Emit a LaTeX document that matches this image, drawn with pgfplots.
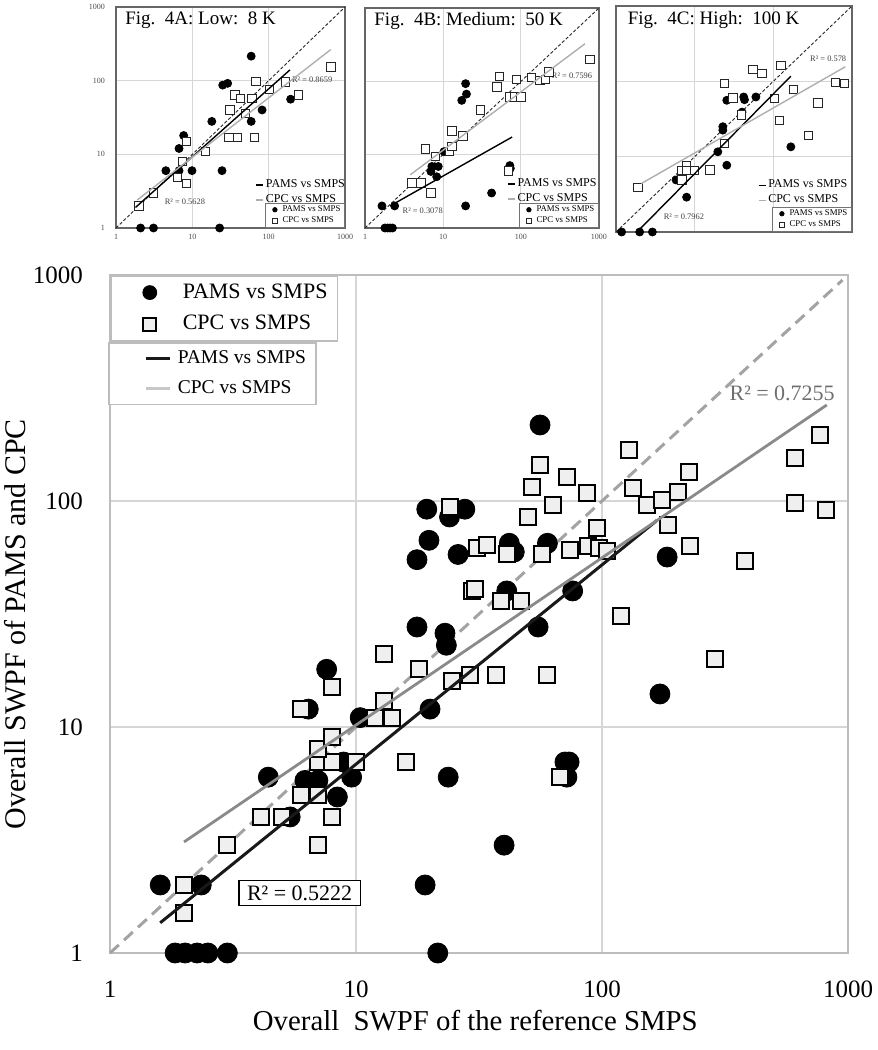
\documentclass[border=0pt]{standalone}
\usepackage{pgfplots}
\pgfplotsset{compat=1.18}
\usepackage{fontspec}
\setmainfont{Liberation Serif}
\definecolor{gridc}{HTML}{D6D6D6}
\definecolor{boxc}{HTML}{BDBDBD}
\definecolor{cpcline}{HTML}{8A8A8A}
\definecolor{cpclegend}{HTML}{C8C8C8}
\definecolor{diagc}{HTML}{A3A3A3}
\definecolor{sqfill}{HTML}{EFEFEF}
\definecolor{r2gray}{HTML}{6E6E6E}
\definecolor{pcpc}{HTML}{AFAFAF}

\tikzset{
  ptitle/.style={anchor=west, font=\fontsize{9.5}{11}\selectfont},
  pr2/.style={font=\fontsize{4.2}{5}\selectfont, text=black!75},
}
\pgfplotsset{
  ppams/.style={only marks, mark=*, mark size=2pt, black},
  pcpcm/.style={only marks, mark=square*, mark size=2.1pt, draw=black!85, fill=white, line width=0.4pt},
  pdiag/.style={black!85, line width=0.45pt, dash pattern=on 1.6pt off 1pt, forget plot},
}

\begin{document}
\begin{tikzpicture}
\useasboundingbox (0,0) rectangle (439pt,525pt);

% ================= Panel A =================
\begin{axis}[scale only axis, xmode=log, ymode=log, xmin=1, xmax=1000, ymin=1, ymax=1000,
  xtick={1,10,100,1000}, ytick={1,10,100,1000}, xminorticks=false, yminorticks=false,
  major tick length=0pt, clip=false,
  width=114.5pt, height=110.5pt, at={(58pt,411pt)}, anchor=south west,
  grid=major, major grid style={gridc, line width=0.5pt},
  axis line style={black!60, line width=0.8pt},
  xticklabels={1,10,100,1000}, yticklabels={1,10,100,1000},
  tick label style={font=\fontsize{4}{5}\selectfont, text=black!70},
  xticklabel style={anchor=center, yshift=-4.5pt},
  yticklabel style={anchor=east, xshift=-2pt},
  legend style={at={(1,0)}, anchor=south east, draw=black!55, line width=0.4pt, fill=white,
    font=\fontsize{4.4}{5}\selectfont, inner xsep=1.5pt, inner ysep=0.5pt, row sep=0pt,
    nodes={inner sep=0.6pt}},
  legend cell align=left,
  legend image code/.code={\path (0pt,0pt) (6pt,0pt); \draw[mark repeat=2,mark phase=2,#1] plot coordinates {(0pt,0pt) (3pt,0pt) (6pt,0pt)};},
  legend image post style={mark size=1.1pt}]
\addplot[pdiag] coordinates {(1,1) (1000,1000)};
\addplot[ppams] coordinates {(59,215) (25,87) (29,92) (18,28) (59,28) (82,40) (194,56) (7.7,18) (6.7,12) (4.5,6) (6.7,6) (9.9,6) (24.5,6) (2.1,1) (3.1,1) (22.8,1)};
\addlegendentry{PAMS vs SMPS}
\addplot[pcpcm] coordinates {(2,2) (3.1,3) (6.4,4.9) (7.4,8) (8.4,4) (8.4,15) (14.7,11) (31,40) (30,17) (39,17) (65,17) (36,64) (43,57) (60,57) (68,97) (50,36) (102,76) (165,96) (245,64) (650,154)};
\addlegendentry{CPC vs SMPS}
\node[ptitle] at (rel axis cs:0.01,0.94) {Fig.\ \ 4A: Low:\ \ 8 K};
\node[pr2] at (axis cs:371,102) {R² = 0.8659};
\node[pr2] at (axis cs:8,2.3) {R² = 0.5628};
\end{axis}
\begin{axis}[scale only axis, xmode=log, ymode=log, xmin=1, xmax=1000, ymin=1, ymax=1000, clip=false,
  width=114.5pt, height=110.5pt, at={(58pt,411pt)}, anchor=south west, hide axis,
  legend style={at={(1.01,0.09)}, anchor=south east, draw=none, fill=none,
    font=\fontsize{6}{7}\selectfont, inner sep=0pt, row sep=0pt, nodes={inner sep=1pt}},
  legend cell align=left,
  legend image code/.code={\draw[#1, line width=0.8pt] (0pt,0pt) -- (3.5pt,0pt);}]
\addplot[black, line width=0.7pt] coordinates {(1.8,1.9) (190,140)};
\addlegendentry{PAMS vs SMPS}
\addplot[pcpc, line width=0.7pt] coordinates {(1.9,2.4) (650,264)};
\addlegendentry{CPC vs SMPS}
\end{axis}

% ================= Panel B =================
\begin{axis}[scale only axis, xmode=log, ymode=log, xmin=1, xmax=1000, ymin=1, ymax=1000,
  xtick={1,10,100,1000}, ytick={1,10,100,1000}, xminorticks=false, yminorticks=false,
  major tick length=0pt, clip=false,
  width=117pt, height=110pt, at={(182.5pt,411pt)}, anchor=south west,
  grid=major, major grid style={gridc, line width=0.5pt},
  axis line style={black!60, line width=0.8pt},
  xticklabels={1,10,100,1000}, yticklabels={},
  tick label style={font=\fontsize{4}{5}\selectfont, text=black!70},
  xticklabel style={anchor=center, yshift=-4.5pt},
  legend style={at={(1,0)}, anchor=south east, draw=black!55, line width=0.4pt, fill=white,
    font=\fontsize{4.4}{5}\selectfont, inner xsep=1.5pt, inner ysep=0.5pt, row sep=0pt,
    nodes={inner sep=0.6pt}},
  legend cell align=left,
  legend image code/.code={\path (0pt,0pt) (6pt,0pt); \draw[mark repeat=2,mark phase=2,#1] plot coordinates {(0pt,0pt) (3pt,0pt) (6pt,0pt)};},
  legend image post style={mark size=1.1pt}]
\addplot[pdiag] coordinates {(1,1) (1000,1000)};
\addplot[ppams] coordinates {(1.65,2) (2.4,2) (1.8,1) (1.95,1) (2.1,1) (2.25,1) (19.5,2) (42,3) (72,7.1) (73,6.5) (19.5,93) (20,67) (17.4,55) (10.3,11) (7.2,6.9) (8.7,6.9) (7,5.9) (8.3,5)};
\addlegendentry{PAMS vs SMPS}
\addplot[pcpcm] coordinates {(4,4.1) (5.2,4.1) (7,3) (6,12) (8,9.4) (12,11) (13,13) (13,21) (18,18) (30,41) (49,84) (53,117) (72,61) (82,61) (100,61) (88,106) (137,114) (175,103) (207,106) (229,134) (69,6) (767,199)};
\addlegendentry{CPC vs SMPS}
\node[ptitle] at (rel axis cs:0.01,0.94) {Fig.\ \ 4B: Medium:\ \ 50 K};
\node[pr2] at (axis cs:451,118) {R² = 0.7596};
\node[pr2] at (axis cs:5.5,1.7) {R² = 0.3078};
\end{axis}
\begin{axis}[scale only axis, xmode=log, ymode=log, xmin=1, xmax=1000, ymin=1, ymax=1000, clip=false,
  width=117pt, height=110pt, at={(182.5pt,411pt)}, anchor=south west, hide axis,
  legend style={at={(1.0,0.095)}, anchor=south east, draw=none, fill=none,
    font=\fontsize{6}{7}\selectfont, inner sep=0pt, row sep=0pt, nodes={inner sep=1pt}},
  legend cell align=left,
  legend image code/.code={\draw[#1, line width=0.8pt] (0pt,0pt) -- (3.5pt,0pt);}]
\addplot[black, line width=0.7pt] coordinates {(2.1,2.0) (77,17.4)};
\addlegendentry{PAMS vs SMPS}
\addplot[pcpc, line width=0.7pt] coordinates {(3.8,5.3) (660,325)};
\addlegendentry{CPC vs SMPS}
\end{axis}

% ================= Panel C =================
\begin{axis}[scale only axis, xmode=log, ymode=log, xmin=1, xmax=1000, ymin=1, ymax=1000,
  xtick={1,10,100,1000}, ytick={1,10,100,1000}, xminorticks=false, yminorticks=false,
  major tick length=0pt, clip=false,
  width=118pt, height=113pt, at={(308pt,409pt)}, anchor=south west,
  grid=major, major grid style={gridc, line width=0.5pt},
  axis line style={black!60, line width=0.8pt},
  xticklabels={}, yticklabels={},
  legend style={at={(1,0)}, anchor=south east, draw=black!55, line width=0.4pt, fill=white,
    font=\fontsize{4.4}{5}\selectfont, inner xsep=1.5pt, inner ysep=0.5pt, row sep=0pt,
    nodes={inner sep=0.6pt}},
  legend cell align=left,
  legend image code/.code={\path (0pt,0pt) (6pt,0pt); \draw[mark repeat=2,mark phase=2,#1] plot coordinates {(0pt,0pt) (3pt,0pt) (6pt,0pt)};},
  legend image post style={mark size=1.1pt}]
\addplot[pdiag] coordinates {(1,1) (1000,1000)};
\addplot[ppams] coordinates {(1.18,1) (2,1) (2.9,1) (7.9,2.9) (5.8,4.9) (19.7,11.6) (25.6,7.7) (22.8,25) (22.8,22.5) (40,39) (25.6,56) (42,62) (43,57) (60,62) (167,13.5)};
\addlegendentry{PAMS vs SMPS}
\addplot[pcpcm] coordinates {(1.9,3.9) (6.9,4.9) (6.9,6.6) (7.8,7.7) (7.9,6.6) (10,6.6) (15.7,6.7) (23.7,15) (39,36) (30.5,60) (23.7,94) (55,144) (71.5,127) (125,164) (104,59) (181,78) (119,30.5) (369,52) (281,19.3) (613,96) (798,93)};
\addlegendentry{CPC vs SMPS}
\node[ptitle] at (rel axis cs:0.02,0.94) {Fig.\ \ 4C: High:\ \ 100 K};
\node[pr2] at (axis cs:498,198) {R² = 0.578};
\node[pr2] at (axis cs:7.3,1.58) {R² = 0.7962};
\end{axis}
\begin{axis}[scale only axis, xmode=log, ymode=log, xmin=1, xmax=1000, ymin=1, ymax=1000, clip=false,
  width=118pt, height=113pt, at={(308pt,409pt)}, anchor=south west, hide axis,
  legend style={at={(0.99,0.105)}, anchor=south east, draw=none, fill=none,
    font=\fontsize{6}{7}\selectfont, inner sep=0pt, row sep=0pt, nodes={inner sep=1pt}},
  legend cell align=left,
  legend image code/.code={\draw[#1, line width=0.8pt] (0pt,0pt) -- (3.5pt,0pt);}]
\addplot[black, line width=0.7pt] coordinates {(1.85,1) (167,117)};
\addlegendentry{PAMS vs SMPS}
\addplot[pcpc, line width=0.7pt] coordinates {(2.1,4.4) (822,156)};
\addlegendentry{CPC vs SMPS}
\end{axis}

% ================= Main chart =================
\begin{axis}[scale only axis, xmode=log, ymode=log, xmin=1, xmax=1000, ymin=1, ymax=1000,
  xtick={1,10,100,1000}, ytick={1,10,100,1000}, xminorticks=false, yminorticks=false,
  major tick length=0pt, clip=false,
  width=369pt, height=339pt, at={(55pt,48.5pt)}, anchor=south west,
  xticklabels={1,10,100,1000}, yticklabels={1,10,100,1000},
  grid=major, major grid style={gridc, line width=0.8pt},
  axis line style={boxc, line width=0.9pt},
  tick label style={font=\fontsize{12.5}{14}\selectfont},
  xticklabel style={anchor=center, yshift=-18pt},
  yticklabel style={anchor=east, xshift=-10pt},
  xlabel={Overall\ \ SWPF of the reference SMPS},
  ylabel={Overall SWPF of PAMS and CPC},
  xlabel style={font=\fontsize{14.4}{16}\selectfont, at={(axis description cs:0.495,-0.099)}, anchor=center},
  ylabel style={font=\fontsize{15}{17}\selectfont, at={(axis description cs:-0.129,0.485)}, anchor=center},
  legend style={at={(0,1)}, anchor=north west, draw=boxc, line width=0.8pt, fill=white,
    font=\fontsize{11}{13}\selectfont, inner xsep=3pt, inner ysep=2pt, row sep=3pt},
  legend cell align=left,
  legend image code/.code={\path (0pt,0pt) (30pt,0pt); \draw[mark repeat=2,mark phase=2,#1] plot coordinates {(0pt,0pt) (16pt,0pt) (32pt,0pt)};},
  legend image post style={mark size=3.3pt},
]
\addplot[diagc, line width=1.5pt, dash pattern=on 6pt off 3.5pt, forget plot] coordinates {(1,1) (950,950)};
\addplot[only marks, mark=*, mark size=5pt, black] coordinates {
(1.6,2) (2.35,2) (1.84,1) (2.02,1) (2.26,1) (2.5,1) (3.0,1) (21.5,1) (19.1,2) (23.7,6) (40,3)
(7.6,18) (6.4,12) (4.4,6) (5.4,4) (6.2,5.8) (7.0,5.8) (8.4,4.9) (9.6,6) (8.9,7) (10.4,11) (20,12)
(17.7,27.7) (23,26) (23.3,23) (19.4,92) (27.7,92) (24,85) (19.8,67) (17.7,55) (26,58) (56,217)
(42,65) (44,59.5) (60,65) (41,40) (76,40) (55,27.7) (184,56.5) (172,14) (70.7,7) (73.5,7) (72,6)};
\addlegendentry{PAMS vs SMPS}
\addplot[only marks, mark=square*, mark size=4pt, draw=black, fill=sqfill, line width=1pt] coordinates {
(2,2) (2,1.5) (3,3) (4.1,4) (5,4) (6,5) (7,5) (7,3) (8,4) (7,7) (8,7) (7,8) (8,9) (10,7) (6,12) (8,15)
(12,11) (14,11) (13,13) (16,7) (13,21) (18,18) (24.5,16) (29,17) (37,17) (24,94) (31,62) (34,64)
(29.6,40) (30.5,41) (39,36) (47,36) (41,58) (57,58) (74,61) (88,63) (95,76) (97,62) (105,60) (50,85)
(63,96) (52,115) (56,144) (72,128) (87,108) (185,78) (228,63) (380,54) (120,31) (129,168) (134,114)
(152,96) (175,101) (204,110) (226,134) (609,155) (769,196) (610,98) (814,91) (288,20) (60,17) (67.5,6)};
\addlegendentry{CPC vs SMPS}
\node[text=r2gray, font=\fontsize{11}{13}\selectfont] at (axis cs:540,300) {R² = 0.7255};
\node[draw=black, line width=0.7pt, fill=white, inner xsep=4pt, inner ysep=2.5pt, font=\fontsize{11}{13}\selectfont] at (axis cs:5.9,1.84) {R² = 0.5222};
\end{axis}
\begin{axis}[scale only axis, xmode=log, ymode=log, xmin=1, xmax=1000, ymin=1, ymax=1000, clip=false,
  width=369pt, height=339pt, at={(55pt,48.5pt)}, anchor=south west, hide axis,
  legend style={at={(0,1)}, anchor=north west, yshift=-33.5pt, xshift=-1pt, draw=boxc, line width=0.8pt, fill=white,
    font=\fontsize{9.75}{11}\selectfont, inner xsep=3pt, inner ysep=2pt, row sep=3pt},
  legend cell align=left,
  legend image code/.code={\path (0pt,0pt) (28pt,0pt); \draw[#1] (15pt,0pt) -- (27pt,0pt);},
]
\addplot[black!90, line width=1.5pt] coordinates {(1.6,1.36) (167,82)};
\addlegendentry{PAMS vs SMPS\hspace{7pt}}
\addplot[cpcline, line width=1.4pt, legend image post style={cpclegend}] coordinates {(2,3.1) (820,266)};
\addlegendentry{CPC vs SMPS}
\end{axis}
\end{tikzpicture}
\end{document}
